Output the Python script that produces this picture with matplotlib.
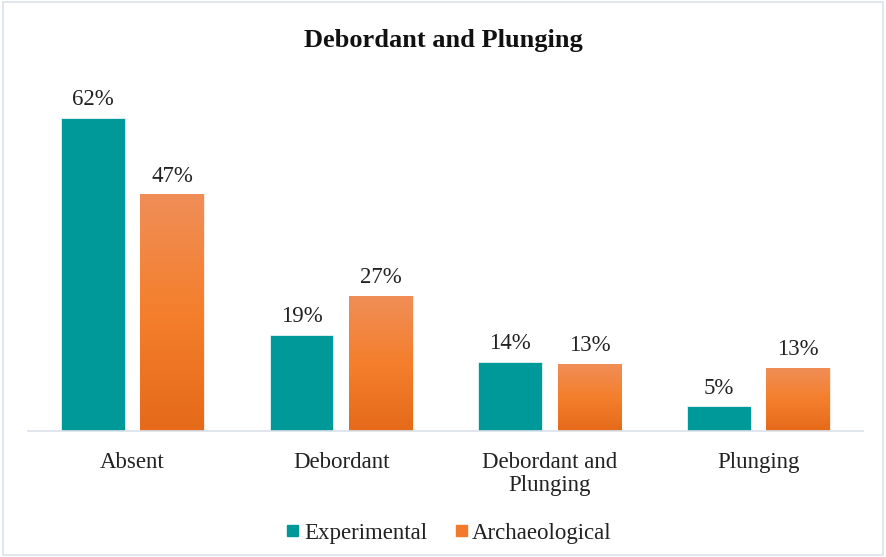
import numpy as np
import matplotlib.pyplot as plt
from matplotlib.patches import Rectangle
from matplotlib.colors import LinearSegmentedColormap

categories = ["Absent", "Debordant", "Debordant and\nPlunging", "Plunging"]
experimental = [62, 19, 13.7, 4.9]
archaeological = [46.9, 26.8, 13.3, 12.5]
exp_labels = ["62%", "19%", "14%", "5%"]
arch_labels = ["47%", "27%", "13%", "13%"]

teal = "#009999"
orange_cmap = LinearSegmentedColormap.from_list(
    "orng", ["#E56A1A", "#F47F2C", "#F08E58"])

plt.rcParams['font.family'] = ['Liberation Serif', 'DejaVu Serif']

fig = plt.figure(figsize=(8.86, 5.57), dpi=100)
ax = fig.add_axes([28 / 886, 1 - 431 / 557, 835 / 886, 353.5 / 557])

x = np.arange(len(categories))
w = 0.306
off = 0.19
fs = 16.5

ax.bar(x - off, experimental, w, color=teal, edgecolor="#e8f4f4", linewidth=0.6)
bars = ax.bar(x + off, archaeological, w, color="none", edgecolor="#fbe3d4", linewidth=0.6)

# vertical gradient for the orange bars
grad = np.linspace(0, 1, 256).reshape(-1, 1)
for b in bars:
    x0, y0 = b.get_x(), b.get_y()
    bw, bh = b.get_width(), b.get_height()
    im = ax.imshow(grad, cmap=orange_cmap, aspect="auto", origin="lower",
                   extent=[x0, x0 + bw, y0, y0 + bh], zorder=1.5)
    im.set_clip_path(b)

for xi, v, lab in zip(x - off, experimental, exp_labels):
    ax.text(xi, v + 1.5, lab, ha="center", va="bottom", fontsize=fs, color="#222222")
for xi, v, lab in zip(x + off, archaeological, arch_labels):
    ax.text(xi, v + 1.5, lab, ha="center", va="bottom", fontsize=fs, color="#222222")

ax.set_xlim(-0.5, 3.5)
ax.set_ylim(0, 70)
ax.set_yticks([])
ax.set_xticks(x)
ax.set_xticklabels(categories, fontsize=fs, color="#222222", linespacing=1.12)
ax.tick_params(axis="x", length=0, pad=15)
for s in ["top", "right", "left"]:
    ax.spines[s].set_visible(False)
ax.spines["bottom"].set_color("#d9e1ea")
ax.spines["bottom"].set_linewidth(1.2)

fig.text(0.5, 1 - 41 / 557, "Debordant and Plunging", ha="center", va="center",
         fontsize=19, fontweight="bold", color="#111111")

# legend
fig.patches.append(Rectangle((287 / 886, 1 - 536 / 557), 11 / 886, 11 / 557,
                             transform=fig.transFigure, color=teal))
fig.text(304 / 886, 1 - 531 / 557, "Experimental", va="center_baseline", fontsize=fs, color="#222222")
fig.patches.append(Rectangle((456 / 886, 1 - 536 / 557), 11 / 886, 11 / 557,
                             transform=fig.transFigure, color="#F27A2A"))
fig.text(472 / 886, 1 - 531 / 557, "Archaeological", va="center_baseline", fontsize=fs, color="#222222")

# outer border
fig.patches.append(Rectangle((3 / 886, 2 / 557), 880 / 886, 553 / 557,
                             transform=fig.transFigure, fill=False,
                             edgecolor="#d9e1ea", linewidth=1.2))

fig.savefig("out.png", dpi=100)
